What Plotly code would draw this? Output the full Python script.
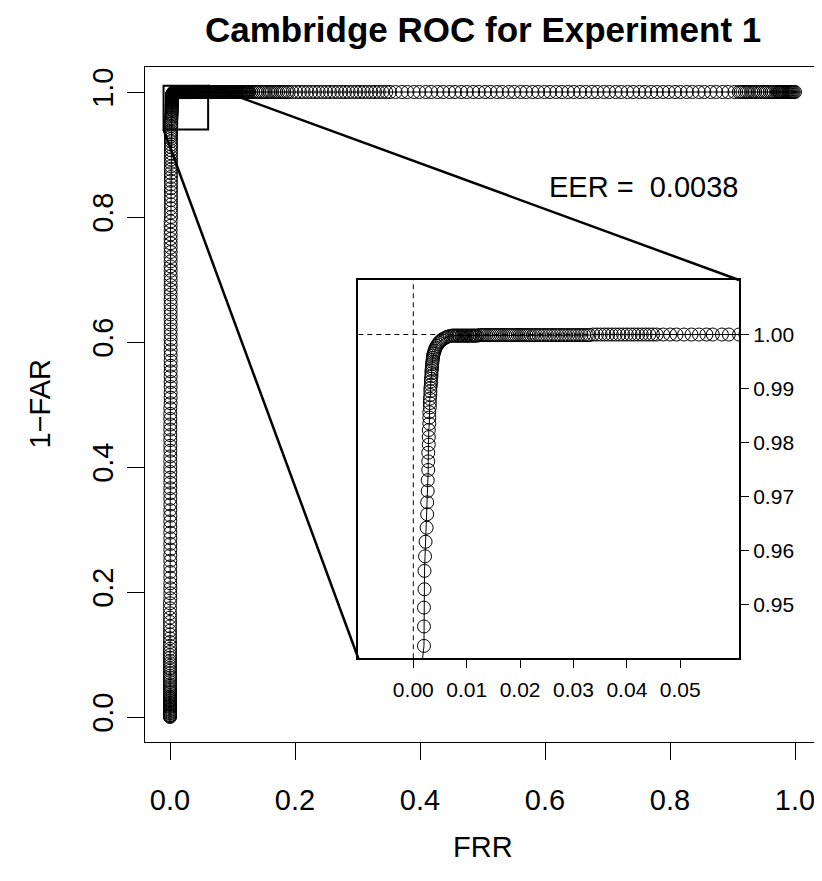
import plotly.graph_objects as go

# ---------------- data (FRR vs 1-FAR) ----------------
# lower part of the rise (FRR ~ 0)
rise1_frr = [0.0, 0.0, 0.0, 0.0, 0.0, 0.0, 0.0, 0.0, 0.0, 0.0,
             0.0, 0.0, 0.0, 0.0, 0.0, 0.0, 0.0, 0.0, 0.0, 0.0,
             0.0, 0.0, 0.0, 0.0, 0.0, 0.0, 0.0, 0.0, 0.0, 0.0,
             0.0, 0.0, 0.0, 0.0, 0.0, 0.0, 0.0, 0.0, 0.0, 0.0]
rise1_tnr = [0.000, 0.001, 0.002, 0.003, 0.005, 0.006, 0.008, 0.009, 0.011, 0.012,
             0.014, 0.016, 0.017, 0.019, 0.021, 0.023, 0.025, 0.027, 0.029, 0.031,
             0.033, 0.035, 0.038, 0.040, 0.043, 0.046, 0.049, 0.052, 0.056, 0.059,
             0.063, 0.066, 0.070, 0.074, 0.078, 0.082, 0.086, 0.090, 0.095, 0.099]

rise2_frr = [0.0, 0.0, 0.0, 0.0, 0.0, 0.0, 0.0, 0.0, 0.0, 0.0,
             0.0, 0.0, 0.0, 0.0005, 0.0005, 0.0005, 0.0005, 0.0005, 0.0005, 0.0005,
             0.0005, 0.0005, 0.0005, 0.0005, 0.0005, 0.0005, 0.0005, 0.0005, 0.0005, 0.0005,
             0.0005, 0.0005]
rise2_tnr = [0.104, 0.109, 0.114, 0.120, 0.126, 0.132, 0.138, 0.145, 0.152, 0.159,
             0.166, 0.174, 0.182, 0.190, 0.198, 0.206, 0.214, 0.223, 0.232, 0.241,
             0.250, 0.259, 0.268, 0.277, 0.286, 0.295, 0.304, 0.313, 0.322, 0.331,
             0.340, 0.349]

rise3_frr = [0.0005, 0.0005, 0.0005, 0.0005, 0.0005, 0.0005, 0.0005, 0.0005, 0.0005, 0.0005,
             0.0005, 0.0005, 0.0005, 0.0005, 0.0005, 0.0005, 0.0005,
             0.0010, 0.0010, 0.0010, 0.0010, 0.0010, 0.0010, 0.0010, 0.0010, 0.0010, 0.0010,
             0.0010, 0.0010, 0.0010, 0.0010, 0.0010, 0.0010, 0.0010, 0.0010, 0.0010, 0.0010,
             0.0010, 0.0010, 0.0010, 0.0010, 0.0010, 0.0010, 0.0010, 0.0010, 0.0010, 0.0010,
             0.0010, 0.0010, 0.0010, 0.0010, 0.0010, 0.0010, 0.0010, 0.0010]
rise3_tnr = [0.358, 0.366, 0.375, 0.383, 0.392, 0.400, 0.409, 0.417, 0.426, 0.434,
             0.443, 0.451, 0.460, 0.468, 0.477, 0.485, 0.494,
             0.502, 0.511, 0.519, 0.528, 0.536, 0.545, 0.553, 0.562, 0.570, 0.579,
             0.587, 0.596, 0.604, 0.612, 0.620, 0.628, 0.636, 0.644, 0.652, 0.660,
             0.668, 0.676, 0.684, 0.691, 0.699, 0.706, 0.714, 0.721, 0.729, 0.736,
             0.744, 0.751, 0.758, 0.765, 0.772, 0.779, 0.786, 0.793]

rise4_frr = [0.0015, 0.0015, 0.0015, 0.0015, 0.0015, 0.0015, 0.0015, 0.0015, 0.0015, 0.0015,
             0.0015, 0.0015, 0.0015, 0.0015, 0.0015, 0.0015, 0.0015, 0.0015, 0.0015, 0.0015,
             0.0015, 0.0015, 0.0015, 0.0015, 0.0015, 0.0015, 0.0015]
rise4_tnr = [0.800, 0.807, 0.814, 0.820, 0.827, 0.833, 0.840, 0.846, 0.852, 0.858,
             0.864, 0.870, 0.876, 0.881, 0.887, 0.892, 0.897, 0.902, 0.907, 0.912,
             0.916, 0.921, 0.925, 0.929, 0.932, 0.935, 0.938]

# steep part visible in the zoom panel
steep_frr = [0.0020, 0.0020, 0.0020, 0.0021, 0.0021, 0.0022, 0.0023, 0.0025, 0.0026, 0.0026,
             0.0027, 0.0027, 0.0028, 0.0028, 0.0028, 0.0029, 0.0029, 0.0029, 0.0030, 0.0030,
             0.0030, 0.0031, 0.0031, 0.0031, 0.0032, 0.0032, 0.0032, 0.0033, 0.0033, 0.0033,
             0.0034, 0.0034, 0.0034, 0.0035, 0.0035, 0.0035, 0.0036, 0.0036, 0.0037, 0.0037,
             0.0038, 0.0039, 0.0040]
steep_tnr = [0.9423, 0.9459, 0.9494, 0.9528, 0.9562, 0.9589, 0.9616, 0.9642, 0.9667, 0.9689,
             0.9710, 0.9730, 0.9749, 0.9765, 0.9781, 0.9796, 0.9810, 0.9823, 0.9835, 0.9846,
             0.9856, 0.9865, 0.9873, 0.9881, 0.9888, 0.9895, 0.9901, 0.9907, 0.9913, 0.9918,
             0.9923, 0.9928, 0.9933, 0.9937, 0.9941, 0.9945, 0.9949, 0.9953, 0.9957, 0.9961,
             0.9964, 0.9967, 0.9970]

knee_frr = [0.0041, 0.0042, 0.0044, 0.0046, 0.0048, 0.0050, 0.0053, 0.0056, 0.0060, 0.0064,
            0.0068, 0.0072]
knee_tnr = [0.9973, 0.9976, 0.9979, 0.9982, 0.9985, 0.9987, 0.9990, 0.9992, 0.9994, 0.9996,
            0.9997, 0.9998]

# flat top, first part (inside the zoom window)
flat1_frr = [0.0075, 0.0077, 0.0080, 0.0082, 0.0085, 0.0087, 0.0090, 0.0092, 0.0095, 0.0097,
             0.0100, 0.0102, 0.0105, 0.0107, 0.0110, 0.0112, 0.0115, 0.0117, 0.0120,
             0.0124, 0.0128, 0.0132, 0.0136, 0.0140, 0.0144, 0.0148, 0.0152, 0.0156, 0.0160,
             0.0164, 0.0168, 0.0172, 0.0176, 0.0180, 0.0184, 0.0188, 0.0192, 0.0196, 0.0200,
             0.0204, 0.0208, 0.0212, 0.0216, 0.0220]
flat1_tnr = [0.9998, 0.9998, 0.9998, 0.9998, 0.9998, 0.9998, 0.9998, 0.9998, 0.9998, 0.9998,
             0.9998, 0.9998, 0.9998, 0.9998, 0.9998, 0.9998, 0.9998, 0.9998, 0.9998,
             0.9999, 0.9999, 0.9999, 0.9999, 0.9999, 0.9999, 0.9999, 0.9999, 0.9999, 0.9999,
             0.9999, 0.9999, 0.9999, 0.9999, 0.9999, 0.9999, 0.9999, 0.9999, 0.9999, 0.9999,
             0.9999, 0.9999, 0.9999, 0.9999, 0.9999]

flat2_frr = [0.0225, 0.0230, 0.0235, 0.0240, 0.0245, 0.0250, 0.0255, 0.0260, 0.0265, 0.0270,
             0.0275, 0.0280, 0.0285, 0.0290, 0.0295, 0.0300, 0.0305, 0.0310, 0.0315, 0.0320,
             0.0325, 0.0330,
             0.0337, 0.0344, 0.0351, 0.0358, 0.0365, 0.0372, 0.0379, 0.0386, 0.0393, 0.0400,
             0.0407, 0.0414, 0.0421, 0.0428, 0.0435, 0.0442, 0.0449, 0.0456,
             0.0468, 0.0481, 0.0493, 0.0507, 0.0521, 0.0535, 0.0549, 0.0561, 0.0578, 0.0591]
flat2_tnr = [0.9999, 0.9999, 0.9999, 0.9999, 0.9999, 0.9999, 0.9999, 0.9999, 0.9999, 0.9999,
             0.9999, 0.9999, 0.9999, 0.9999, 0.9999, 0.9999, 0.9999, 0.9999, 0.9999, 0.9999,
             0.9999, 0.9999,
             1.0, 1.0, 1.0, 1.0, 1.0, 1.0, 1.0, 1.0, 1.0, 1.0,
             1.0, 1.0, 1.0, 1.0, 1.0, 1.0, 1.0, 1.0,
             1.0, 1.0, 1.0, 1.0, 1.0, 1.0, 1.0, 1.0, 1.0, 1.0]

# flat top, rest of the curve (main panel only)
flat3_frr = [0.0610, 0.0622, 0.0634, 0.0646, 0.0658, 0.0670, 0.0682, 0.0694, 0.0706, 0.0718,
             0.0730, 0.0742, 0.0754, 0.0766, 0.0778, 0.0790, 0.0802, 0.0814, 0.0826, 0.0838,
             0.0850, 0.0862, 0.0874, 0.0886, 0.0898, 0.0910, 0.0922, 0.0934, 0.0946, 0.0958,
             0.0970, 0.0982, 0.0994, 0.1006, 0.1018, 0.1030, 0.1042, 0.1054, 0.1066, 0.1078,
             0.1090, 0.1102, 0.1114, 0.1126, 0.1138, 0.1150, 0.1162, 0.1174, 0.1186, 0.1198,
             0.1210, 0.1222, 0.1234, 0.1246, 0.1258, 0.1270,
             0.130, 0.133, 0.137, 0.140, 0.143, 0.147, 0.150, 0.153, 0.157, 0.160,
             0.163, 0.167, 0.170, 0.173, 0.177, 0.180, 0.183, 0.187, 0.190]
flat3_tnr = [1.0, 1.0, 1.0, 1.0, 1.0, 1.0, 1.0, 1.0, 1.0, 1.0,
             1.0, 1.0, 1.0, 1.0, 1.0, 1.0, 1.0, 1.0, 1.0, 1.0,
             1.0, 1.0, 1.0, 1.0, 1.0, 1.0, 1.0, 1.0, 1.0, 1.0,
             1.0, 1.0, 1.0, 1.0, 1.0, 1.0, 1.0, 1.0, 1.0, 1.0,
             1.0, 1.0, 1.0, 1.0, 1.0, 1.0, 1.0, 1.0, 1.0, 1.0,
             1.0, 1.0, 1.0, 1.0, 1.0, 1.0,
             1.0, 1.0, 1.0, 1.0, 1.0, 1.0, 1.0, 1.0, 1.0, 1.0,
             1.0, 1.0, 1.0, 1.0, 1.0, 1.0, 1.0, 1.0, 1.0]

flat4_frr = [0.196, 0.202, 0.208, 0.214, 0.220, 0.226, 0.232, 0.238, 0.244, 0.250,
             0.256, 0.262, 0.268, 0.274, 0.280, 0.286, 0.292, 0.298, 0.304, 0.310,
             0.316, 0.322, 0.328, 0.334, 0.340, 0.346, 0.352,
             0.361, 0.371, 0.380, 0.390, 0.399, 0.409, 0.418, 0.428, 0.437, 0.447,
             0.456, 0.466, 0.475, 0.485, 0.494, 0.504, 0.513, 0.523, 0.532, 0.542,
             0.551, 0.561, 0.570, 0.580, 0.589, 0.599, 0.608, 0.618, 0.627, 0.637,
             0.646, 0.656, 0.665, 0.675, 0.684, 0.694, 0.703, 0.713, 0.722, 0.732,
             0.741, 0.751, 0.760, 0.770, 0.779, 0.789, 0.798, 0.808, 0.817, 0.827,
             0.836, 0.846, 0.855, 0.865, 0.874, 0.884, 0.893, 0.903, 0.910]
flat4_tnr = [1.0, 1.0, 1.0, 1.0, 1.0, 1.0, 1.0, 1.0, 1.0, 1.0,
             1.0, 1.0, 1.0, 1.0, 1.0, 1.0, 1.0, 1.0, 1.0, 1.0,
             1.0, 1.0, 1.0, 1.0, 1.0, 1.0, 1.0,
             1.0, 1.0, 1.0, 1.0, 1.0, 1.0, 1.0, 1.0, 1.0, 1.0,
             1.0, 1.0, 1.0, 1.0, 1.0, 1.0, 1.0, 1.0, 1.0, 1.0,
             1.0, 1.0, 1.0, 1.0, 1.0, 1.0, 1.0, 1.0, 1.0, 1.0,
             1.0, 1.0, 1.0, 1.0, 1.0, 1.0, 1.0, 1.0, 1.0, 1.0,
             1.0, 1.0, 1.0, 1.0, 1.0, 1.0, 1.0, 1.0, 1.0, 1.0,
             1.0, 1.0, 1.0, 1.0, 1.0, 1.0, 1.0, 1.0, 1.0]

flat5_frr = [0.913, 0.916, 0.920, 0.923, 0.926, 0.930, 0.933, 0.936, 0.940, 0.943,
             0.946, 0.950, 0.953, 0.956, 0.960, 0.963, 0.966, 0.970, 0.972,
             0.974, 0.9755, 0.977, 0.9785, 0.980, 0.9815, 0.983, 0.9845, 0.986, 0.9875,
             0.989, 0.9905, 0.992, 0.9935, 0.995, 0.9965, 0.998, 1.000]
flat5_tnr = [1.0, 1.0, 1.0, 1.0, 1.0, 1.0, 1.0, 1.0, 1.0, 1.0,
             1.0, 1.0, 1.0, 1.0, 1.0, 1.0, 1.0, 1.0, 1.0,
             1.0, 1.0, 1.0, 1.0, 1.0, 1.0, 1.0, 1.0, 1.0, 1.0,
             1.0, 1.0, 1.0, 1.0, 1.0, 1.0, 1.0, 1.0]

eer_value = 0.0038

main_ticks = [0.0, 0.2, 0.4, 0.6, 0.8, 1.0]
inset_x_ticks = [0.00, 0.01, 0.02, 0.03, 0.04, 0.05]
inset_y_ticks = [0.95, 0.96, 0.97, 0.98, 0.99, 1.00]

title_text = "Cambridge ROC for Experiment 1"
x_title = "FRR"
y_title = "1\u2212FAR"

# ---------------- assemble ----------------
frr = (rise1_frr + rise2_frr + rise3_frr + rise4_frr + steep_frr + knee_frr +
       flat1_frr + flat2_frr + flat3_frr + flat4_frr + flat5_frr)
tnr = (rise1_tnr + rise2_tnr + rise3_tnr + rise4_tnr + steep_tnr + knee_tnr +
       flat1_tnr + flat2_tnr + flat3_tnr + flat4_tnr + flat5_tnr)

main_xr = [-0.04, 1.04]
main_yr = [-0.04, 1.04]
zoom_xr = [-0.0103, 0.0610]
zoom_yr = [0.9400, 1.0101]
inset_dom_x = [0.316, 0.880]
inset_dom_y = [0.124, 0.6844]

FONT = "Liberation Sans, Arial, Helvetica, sans-serif"
BLACK = "black"

marker = dict(symbol="circle-open", size=13, color=BLACK, line=dict(width=1, color=BLACK))

fig = go.Figure()
fig.add_trace(go.Scatter(x=frr, y=tnr, mode="lines+markers", marker=marker,
                         line=dict(color=BLACK, width=1), xaxis="x", yaxis="y",
                         hoverinfo="skip"))
fig.add_trace(go.Scatter(x=frr, y=tnr, mode="lines+markers", marker=marker,
                         line=dict(color=BLACK, width=1), xaxis="x2", yaxis="y2",
                         hoverinfo="skip"))


def paper_to_main_x(p):
    return main_xr[0] + p * (main_xr[1] - main_xr[0])


def paper_to_main_y(p):
    return main_yr[0] + p * (main_yr[1] - main_yr[0])


shapes = [
    # zoom window in the main panel
    dict(type="rect", xref="x", yref="y", x0=zoom_xr[0], x1=zoom_xr[1],
         y0=zoom_yr[0], y1=zoom_yr[1], line=dict(color=BLACK, width=2)),
    # connectors
    dict(type="line", xref="x", yref="y", x0=zoom_xr[1], y0=zoom_yr[1],
         x1=paper_to_main_x(inset_dom_x[1]), y1=paper_to_main_y(inset_dom_y[1]),
         line=dict(color=BLACK, width=2.5)),
    dict(type="line", xref="x", yref="y", x0=zoom_xr[0], y0=zoom_yr[0],
         x1=paper_to_main_x(inset_dom_x[0]), y1=paper_to_main_y(inset_dom_y[0]),
         line=dict(color=BLACK, width=2.5)),
    # dashed reference lines in the inset
    dict(type="line", xref="x2", yref="y2", x0=0, x1=0, y0=zoom_yr[0], y1=zoom_yr[1],
         line=dict(color=BLACK, width=1, dash="5px,4px"), layer="below"),
    dict(type="line", xref="x2", yref="y2", x0=zoom_xr[0], x1=zoom_xr[1], y0=1, y1=1,
         line=dict(color=BLACK, width=1, dash="5px,4px"), layer="below"),
]

annotations = [
    dict(text="<b>" + title_text + "</b>", x=0.5, y=1, xref="paper", yref="paper",
         yanchor="middle", xanchor="center", yshift=38, showarrow=False,
         font=dict(size=35, family=FONT, color=BLACK)),
    dict(text=x_title, x=0.5, y=0, xref="paper", yref="paper", yanchor="middle",
         xanchor="center", yshift=-105, showarrow=False,
         font=dict(size=29, family=FONT, color=BLACK)),
    dict(text=y_title, x=0, y=0.5, xref="paper", yref="paper", yanchor="middle",
         xanchor="center", xshift=-106, textangle=-90, showarrow=False,
         font=dict(size=29, family=FONT, color=BLACK)),
    dict(text="EER =\u00a0 " + f"{eer_value:.4f}", x=0.757, y=0.848, xref="x", yref="y",
         xanchor="center", yanchor="middle", showarrow=False,
         font=dict(size=29, family=FONT, color=BLACK)),
]

axis_common = dict(showgrid=False, zeroline=False, showline=True, linecolor=BLACK,
                   mirror=True, ticks="outside", tickcolor=BLACK)

# the page body adds an 8px offset, so the figure is 8px smaller and margins shifted
fig.update_layout(
    width=814, height=873,
    margin=dict(l=137, r=2, t=59, b=139),
    plot_bgcolor="white", paper_bgcolor="white",
    showlegend=False,
    font=dict(family=FONT, color=BLACK),
    xaxis=dict(domain=[0, 1], range=main_xr, tickvals=main_ticks, tickformat=".1f",
               ticklen=17, tickwidth=1, linewidth=1, tickfont=dict(size=29),
               ticklabelstandoff=15, anchor="y", **axis_common),
    yaxis=dict(domain=[0, 1], range=main_yr, tickvals=main_ticks, tickformat=".1f",
               ticklen=17, tickwidth=1, linewidth=1, tickfont=dict(size=29),
               tickangle=-90, ticklabelstandoff=2, anchor="x", **axis_common),
    xaxis2=dict(domain=inset_dom_x, range=zoom_xr, tickvals=inset_x_ticks,
                tickformat=".2f", ticklen=8, tickwidth=1, linewidth=2,
                tickfont=dict(size=21), ticklabelstandoff=3, anchor="y2", **axis_common),
    yaxis2=dict(domain=inset_dom_y, range=zoom_yr, tickvals=inset_y_ticks,
                tickformat=".2f", ticklen=8, tickwidth=1, linewidth=2,
                tickfont=dict(size=21), anchor="x2", side="right", **axis_common),
    shapes=shapes,
    annotations=annotations,
)

fig.write_html("out.html")
